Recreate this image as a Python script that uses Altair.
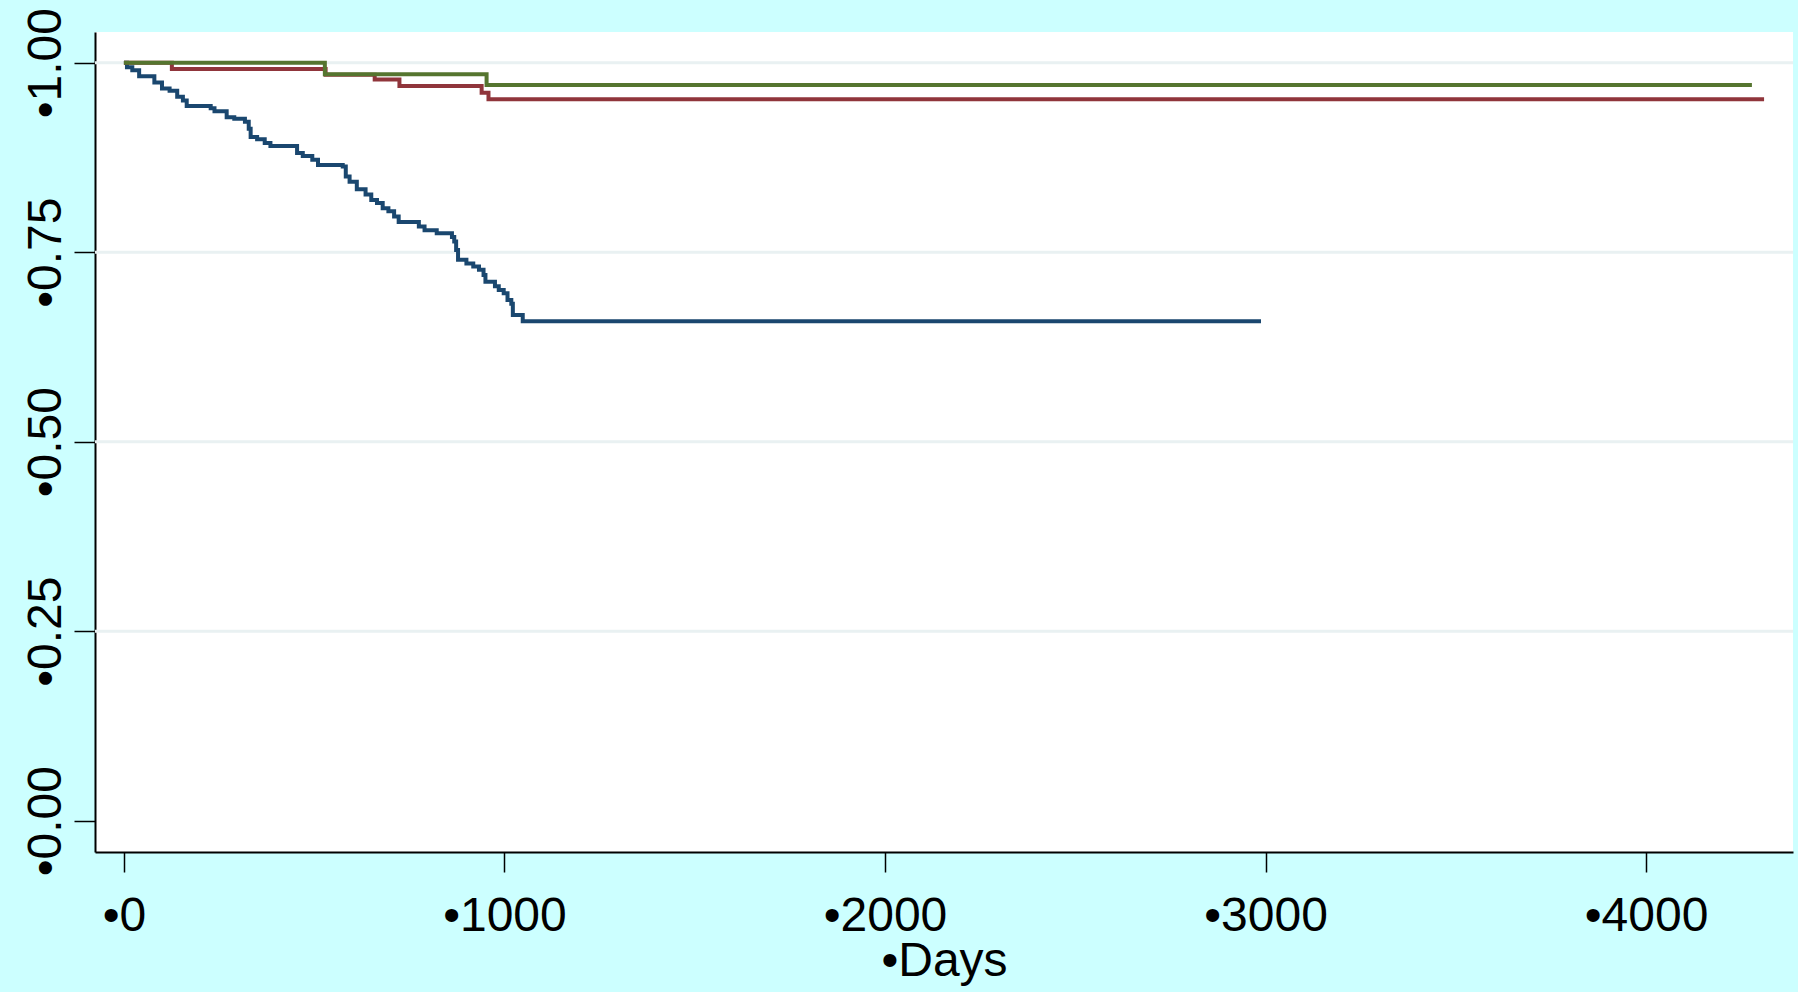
import altair as alt
import pandas as pd

# ---- data ----
blue_days = [0, 8, 22, 40, 80, 100, 120, 140, 155, 165, 228, 238, 270, 290, 318,
             328, 333, 350, 370, 385, 455, 470, 495, 510, 575, 583, 593, 612, 635,
             650, 665, 680, 695, 710, 722, 775, 790, 822, 862, 868, 873, 878, 900,
             918, 933, 945, 950, 975, 985, 998, 1008, 1018, 1022, 1048, 2988]
blue_surv = [1.0, 0.994, 0.990, 0.982, 0.974, 0.966, 0.963, 0.955, 0.950, 0.943,
             0.940, 0.936, 0.928, 0.926, 0.922, 0.913, 0.902, 0.899, 0.894, 0.890,
             0.881, 0.877, 0.872, 0.865, 0.863, 0.850, 0.843, 0.833, 0.826, 0.819,
             0.815, 0.808, 0.804, 0.797, 0.790, 0.784, 0.779, 0.775, 0.770, 0.764,
             0.753, 0.740, 0.735, 0.731, 0.727, 0.720, 0.711, 0.705, 0.700, 0.696,
             0.687, 0.682, 0.667, 0.659, 0.659]

red_days = [0, 126, 530, 659, 724, 940, 958, 4310]
red_surv = [1.0, 0.9917, 0.984, 0.978, 0.9693, 0.9604, 0.9517, 0.9517]

green_days = [0, 528, 953, 4278]
green_surv = [1.0, 0.9847, 0.9706, 0.9706]

x_ticks = [0, 1000, 2000, 3000, 4000]
y_ticks = [0.0, 0.25, 0.5, 0.75, 1.0]
grid_levels = [0.25, 0.5, 0.75, 1.0]

FONT = "Liberation Sans"

x_enc = alt.X(
    "day:Q",
    scale=alt.Scale(domain=[-76, 4386], nice=False, zero=False),
    axis=alt.Axis(
        values=x_ticks,
        labelExpr="'\u2022' + format(datum.value, 'd')",
        title="\u2022Days",
        grid=False,
        labelFont=FONT, labelFontSize=48, labelColor="black",
        labelFlush=False, labelOverlap=False,
        tickSize=20, tickWidth=1.5, tickColor="black",
        domainColor="black", domainWidth=2,
        labelPadding=20,
        titleFont=FONT, titleFontSize=48, titleFontWeight="normal",
        titleColor="black", titleBaseline="alphabetic", titleY=123,
    ),
)

y_enc = alt.Y(
    "surv:Q",
    scale=alt.Scale(domain=[-0.0413, 1.0405], nice=False, zero=False),
    axis=alt.Axis(
        values=y_ticks,
        labelExpr="'\u2022' + format(datum.value, '.2f')",
        title=None,
        grid=False,
        labelFont=FONT, labelFontSize=48, labelColor="black",
        labelAngle=270, labelAlign="center", labelBaseline="alphabetic",
        labelFlush=False, labelOverlap=False,
        tickSize=21, tickWidth=1.5, tickColor="black",
        domainColor="black", domainWidth=2,
        labelPadding=14,
    ),
)

grid = alt.Chart(pd.DataFrame({"surv": grid_levels})).mark_rule(
    color="#e9f1f2", strokeWidth=3
).encode(y=y_enc)


def step_line(days, surv, color):
    return alt.Chart(pd.DataFrame({"day": days, "surv": surv})).mark_line(
        interpolate="step-after", strokeWidth=4, color=color
    ).encode(x=x_enc, y=y_enc)


blue = step_line(blue_days, blue_surv, "#1a476f")
red = step_line(red_days, red_surv, "#90353b")
green = step_line(green_days, green_surv, "#55752f")

chart = alt.layer(grid, blue, red, green).properties(
    width=1698,
    height=820,
    padding={"left": 95, "top": 32, "right": 5, "bottom": 140},
    autosize=alt.AutoSizeParams(type="none"),
).configure(
    background="#ccffff",
    font=FONT,
).configure_view(
    fill="white", strokeWidth=0
)

chart.save("out.html", embed_options={"renderer": "svg", "actions": False})
